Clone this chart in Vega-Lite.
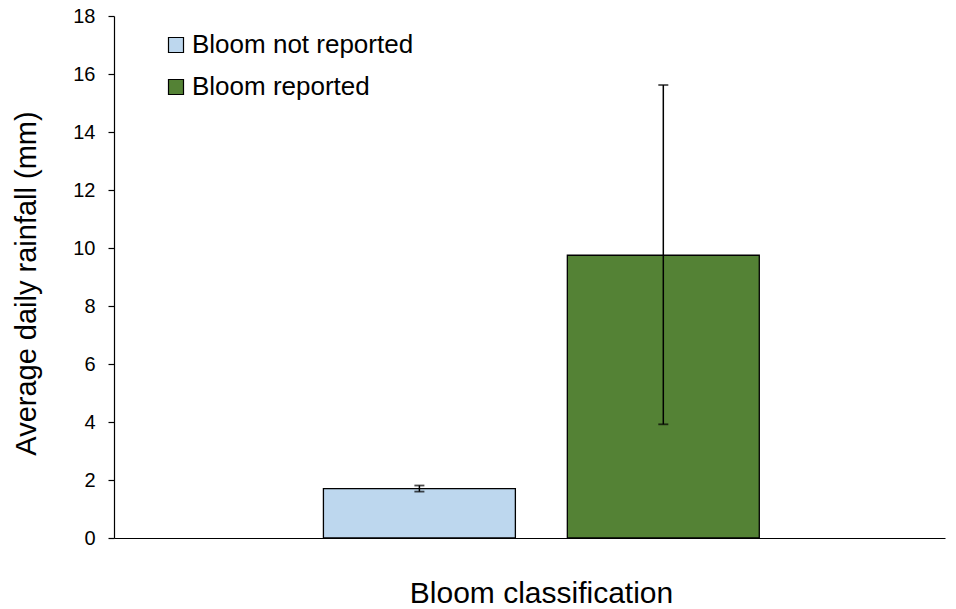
{
  "$schema": "https://vega.github.io/schema/vega-lite/v6.json",
  "autosize": {"type": "none"},
  "padding": {"left": 114, "top": 16, "right": 11, "bottom": 71},
  "width": 831,
  "height": 522,
  "background": "white",
  "config": {
    "font": "Liberation Sans",
    "view": {"stroke": null}
  },
  "data": {
    "values": [
      {"class": "Bloom not reported", "mean": 1.7, "lo": 1.6, "hi": 1.81},
      {"class": "Bloom reported", "mean": 9.75, "lo": 3.92, "hi": 15.62}
    ]
  },
  "encoding": {
    "x": {
      "field": "class",
      "type": "nominal",
      "sort": null,
      "scale": {"paddingInner": 0.213, "paddingOuter": 0.81, "align": 0.53},
      "axis": {
        "title": "Bloom classification",
        "labels": false,
        "ticks": false,
        "domainColor": "black",
        "domainWidth": 1.2,
        "titleFont": "Liberation Sans",
        "titleFontSize": 30,
        "titleFontWeight": "normal",
        "titleColor": "black",
        "titleX": 427,
        "titleY": 64,
        "titleAlign": "center",
        "titleBaseline": "alphabetic"
      }
    }
  },
  "layer": [
    {
      "mark": {"type": "bar", "stroke": "black", "strokeWidth": 1.3},
      "encoding": {
        "y": {
          "field": "mean",
          "type": "quantitative",
          "scale": {"domain": [0, 18], "nice": false},
          "axis": {
            "title": "Average daily rainfall (mm)",
            "values": [0, 2, 4, 6, 8, 10, 12, 14, 16, 18],
            "grid": false,
            "domainColor": "black",
            "domainWidth": 1.2,
            "tickColor": "black",
            "tickSize": 6,
            "tickWidth": 1.2,
            "labelPadding": 13,
            "labelFont": "Liberation Sans",
            "labelFontSize": 20,
            "labelColor": "black",
            "titleFont": "Liberation Sans",
            "titleFontSize": 29,
            "titleFontWeight": "normal",
            "titleColor": "black",
            "titleAngle": -90,
            "titleX": -79,
            "titleY": 267,
            "titleAlign": "center",
            "titleBaseline": "alphabetic"
          }
        },
        "color": {
          "field": "class",
          "type": "nominal",
          "sort": null,
          "scale": {"range": ["#BDD7EE", "#548235"]},
          "legend": {
            "title": null,
            "orient": "none",
            "legendX": 49,
            "legendY": 16,
            "symbolType": "square",
            "symbolSize": 225,
            "symbolStrokeColor": "black",
            "symbolStrokeWidth": 1.2,
            "symbolOpacity": 1,
            "labelFont": "Liberation Sans",
            "labelFontSize": 26,
            "labelColor": "black",
            "labelOffset": 3,
            "rowPadding": 16,
            "labelLimit": 400
          }
        }
      }
    },
    {
      "mark": {"type": "rule", "color": "black", "strokeWidth": 1.5},
      "encoding": {
        "y": {"field": "lo", "type": "quantitative"},
        "y2": {"field": "hi"}
      }
    },
    {
      "mark": {"type": "tick", "color": "black", "size": 10, "thickness": 1.8, "orient": "horizontal"},
      "encoding": {
        "y": {"field": "lo", "type": "quantitative"}
      }
    },
    {
      "mark": {"type": "tick", "color": "black", "size": 10, "thickness": 1.8, "orient": "horizontal"},
      "encoding": {
        "y": {"field": "hi", "type": "quantitative"}
      }
    }
  ]
}
